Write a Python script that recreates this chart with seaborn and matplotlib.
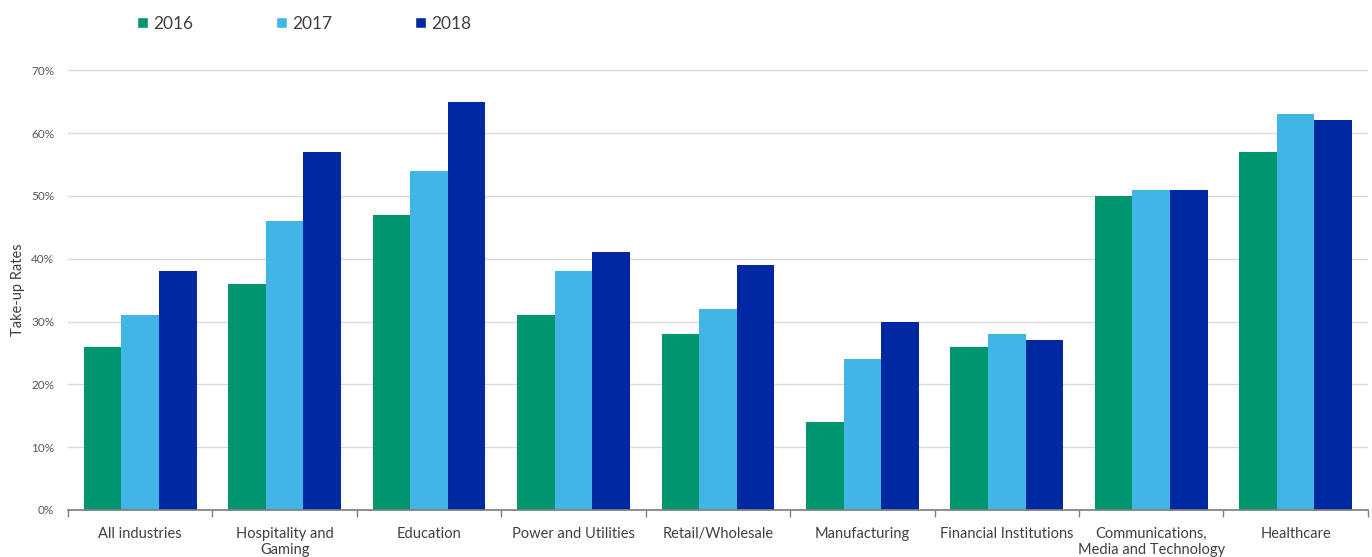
import matplotlib
matplotlib.use("Agg")
import matplotlib.pyplot as plt
import seaborn as sns
import pandas as pd
from matplotlib.patches import Patch
from matplotlib.ticker import FixedLocator

categories = ["All industries", "Hospitality and\nGaming", "Education", "Power and Utilities",
              "Retail/Wholesale", "Manufacturing", "Financial Institutions",
              "Communications,\nMedia and Technology", "Healthcare"]
years = ["2016", "2017", "2018"]
v2016 = [26, 36, 47, 31, 28, 14, 26, 50, 57]
v2017 = [31, 46, 54, 38, 32, 24, 28, 51, 63]
v2018 = [38, 57, 65, 41, 39, 30, 27, 51, 62]
yticks = [0, 10, 20, 30, 40, 50, 60, 70]
colors = ["#009670", "#41B6E6", "#0028A0"]

rows = []
for y, vals in zip(years, [v2016, v2017, v2018]):
    for c, v in zip(categories, vals):
        rows.append({"Industry": c, "Year": y, "Rate": v})
df = pd.DataFrame(rows)

sns.set_theme(style="white")
plt.rcParams['font.family'] = ['Lato', 'DejaVu Sans']

fig = plt.figure(figsize=(13.72, 5.57), dpi=100)
ax = fig.add_axes([0.0496, 0.0844, 0.9474, 0.7896])
sns.barplot(data=df, x="Industry", y="Rate", hue="Year", palette=colors,
            order=categories, hue_order=years, width=0.78, saturation=1,
            ax=ax, legend=False, linewidth=0)

ax.set_xlim(-0.5, len(categories) - 0.5)
ax.set_ylim(0, 70)
ax.set_yticks(yticks)
ax.set_yticklabels([f"{t}%" for t in yticks], color="#595959", fontsize=8.5)
ax.yaxis.grid(True, color="#d9d9d9", linewidth=1)
ax.set_axisbelow(True)
ax.tick_params(axis="y", length=0, pad=10)
ax.set_xticks(range(len(categories)))
ax.set_xticklabels(categories, color="#404040", fontsize=10.5, linespacing=1.25)
ax.tick_params(axis="x", which="major", length=0, pad=12)
ax.xaxis.set_minor_locator(FixedLocator([i - 0.5 for i in range(len(categories) + 1)]))
ax.tick_params(axis="x", which="minor", length=5, color="#808080", width=1, direction="out", bottom=True)
for s in ["left", "right", "top"]:
    ax.spines[s].set_visible(False)
ax.spines["bottom"].set_color("#808080")
ax.set_xlabel("")
ax.set_ylabel("Take-up Rates", color="#404040", fontsize=10.5, labelpad=4)

handles = [Patch(facecolor=c, label=y) for c, y in zip(colors, years)]
fig.legend(handles=handles, loc="upper left", bbox_to_anchor=(0.0885, 1.0), ncol=3,
           frameon=False, fontsize=12.5, handlelength=0.65, handleheight=0.65,
           handletextpad=0.3, columnspacing=4.75, labelcolor="#404040")

fig.savefig("out.png", dpi=100)
